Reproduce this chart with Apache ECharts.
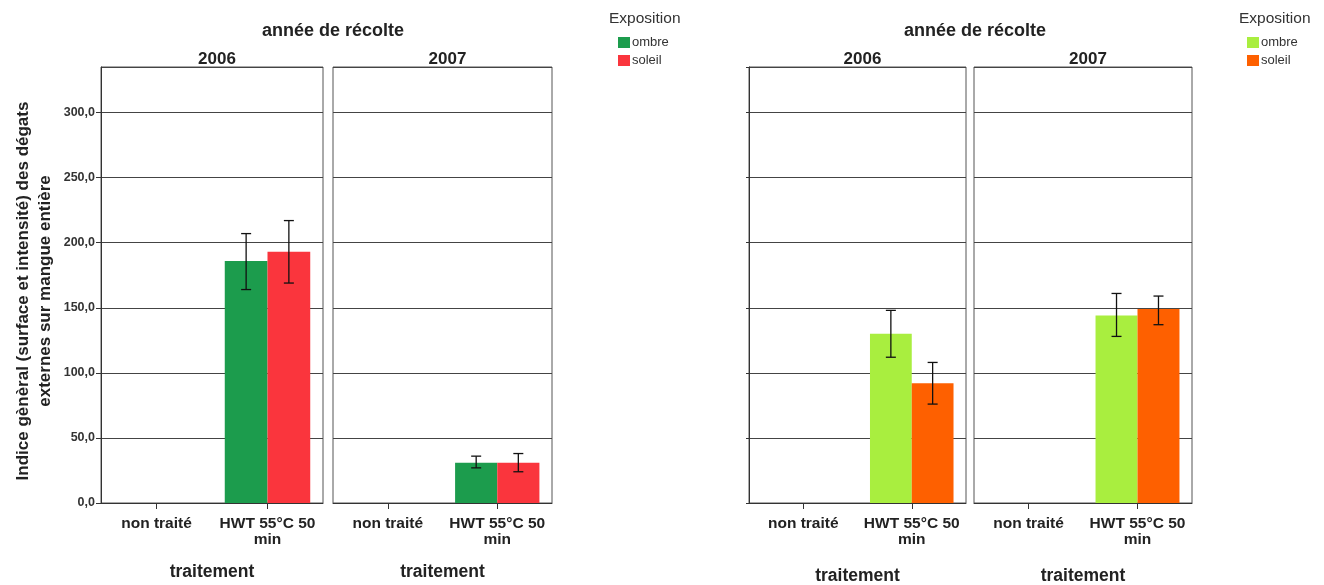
<!DOCTYPE html>
<html><head><meta charset="utf-8">
<script src="https://cdn.jsdelivr.net/npm/echarts@6/dist/echarts.min.js"></script>
<style>html,body{margin:0;padding:0;background:#fff}#c{width:1324px;height:585px}</style>
</head><body><div id="c"></div>
<script>
// ---- data ----
const categories = ['non traité', 'HWT 55°C 50\nmin'];
const years = ['2006', '2007'];
const yTicks = [0, 50, 100, 150, 200, 250, 300];
const yAxisTitle = 'Indice gènèral (surface et intensité) des dégats\nexternes sur mangue entière';
const groupTitle = 'année de récolte';
const xTitle = 'traitement';
const legendTitle = 'Exposition';
const seriesNames = ['ombre', 'soleil'];

// left chart means and 95% CI bounds
const c1_2006_ombre = [null, 186];
const c1_2006_soleil = [null, 193];
const c1_2007_ombre = [null, 31];
const c1_2007_soleil = [null, 31];
const c1_2006_ombre_ci = [null, [164, 207]];
const c1_2006_soleil_ci = [null, [169, 217]];
const c1_2007_ombre_ci = [null, [27, 36]];
const c1_2007_soleil_ci = [null, [24, 38]];

// right chart means and 95% CI bounds
const c2_2006_ombre = [null, 130];
const c2_2006_soleil = [null, 92];
const c2_2007_ombre = [null, 144];
const c2_2007_soleil = [null, 149];
const c2_2006_ombre_ci = [null, [112, 148]];
const c2_2006_soleil_ci = [null, [76, 108]];
const c2_2007_ombre_ci = [null, [128, 161]];
const c2_2007_soleil_ci = [null, [137, 159]];

// ---- layout / style ----
const FONT = 'Liberation Sans, Arial, sans-serif';
const colorsLeft = ['#1c9c4d', '#fa353d'];
const colorsRight = ['#a9ee3f', '#fe6000'];
const grids = [
  {left: 101, top: 67, width: 222, height: 436},
  {left: 333, top: 67, width: 219, height: 436},
  {left: 749, top: 67, width: 217, height: 436},
  {left: 974, top: 67, width: 218, height: 436}
];
const CAT_GAP = 0.23;

const fmt = v => v.toFixed(1).replace('.', ',');

const chart = echarts.init(document.getElementById('c'), null, {renderer: 'canvas'});

const xAxes = grids.map((g, i) => ({
  type: 'category', gridIndex: i, data: categories,
  axisLine: {show: true, lineStyle: {color: '#333', width: 1}},
  axisTick: {show: true, alignWithLabel: true, length: 6, lineStyle: {color: '#333'}},
  axisLabel: {interval: 0, fontFamily: FONT, fontWeight: 'bold', fontSize: 15.5, color: '#222', margin: 13, lineHeight: 16},
  name: xTitle, nameLocation: 'middle', nameGap: i < 2 ? 60 : 64,
  nameTextStyle: {fontFamily: FONT, fontWeight: 'bold', fontSize: 17.5, color: '#222'}
}));

const yAxes = grids.map((g, i) => ({
  type: 'value', gridIndex: i, min: 0, max: 335, interval: 50,
  axisLine: {show: i === 0 || i === 2, lineStyle: {color: '#333'}},
  axisTick: {show: i === 0 || i === 2, length: i === 0 ? 5 : 3, lineStyle: {color: '#333'}},
  axisLabel: {show: i === 0, showMaxLabel: false, fontFamily: FONT, fontWeight: 'bold', fontSize: 12.5, color: '#333', margin: 6,
    formatter: v => yTicks.includes(v) ? fmt(v) : ''},
  splitLine: {show: true, lineStyle: {color: '#444', width: 1}},
  name: i === 0 ? yAxisTitle : '', nameLocation: 'middle', nameGap: 45, nameRotate: 90,
  nameTextStyle: {fontFamily: FONT, fontWeight: 'bold', fontSize: 17, color: '#222', lineHeight: 22, padding: [0, 12, 0, 0]}
}));

const panels = [
  {means: [c1_2006_ombre, c1_2006_soleil], ci: [c1_2006_ombre_ci, c1_2006_soleil_ci], colors: colorsLeft, suffix: ''},
  {means: [c1_2007_ombre, c1_2007_soleil], ci: [c1_2007_ombre_ci, c1_2007_soleil_ci], colors: colorsLeft, suffix: ''},
  {means: [c2_2006_ombre, c2_2006_soleil], ci: [c2_2006_ombre_ci, c2_2006_soleil_ci], colors: colorsRight, suffix: ' '},
  {means: [c2_2007_ombre, c2_2007_soleil], ci: [c2_2007_ombre_ci, c2_2007_soleil_ci], colors: colorsRight, suffix: ' '}
];

const series = [];
panels.forEach((p, i) => {
  p.means.forEach((m, k) => {
    series.push({
      type: 'bar', name: seriesNames[k] + p.suffix, xAxisIndex: i, yAxisIndex: i,
      data: m, barGap: '0%', barCategoryGap: (CAT_GAP * 100) + '%',
      itemStyle: {color: p.colors[k]}, silent: true
    });
  });
  p.ci.forEach((c, k) => {
    const sign = k === 0 ? -1 : 1;
    const d = [];
    c.forEach((v, j) => { if (v) d.push([j, v[0], v[1]]); });
    series.push({
      type: 'custom', xAxisIndex: i, yAxisIndex: i, z: 5, silent: true,
      data: d,
      renderItem: (params, api) => {
        const x = api.value(0);
        const lo = api.coord([x, api.value(1)]);
        const hi = api.coord([x, api.value(2)]);
        const band = api.size([1, 0])[0];
        const cx = lo[0] + sign * band * (1 - CAT_GAP) / 4;
        const cap = 5;
        const st = {stroke: '#111', lineWidth: 1.3};
        return {type: 'group', children: [
          {type: 'line', shape: {x1: cx, y1: lo[1], x2: cx, y2: hi[1]}, style: st},
          {type: 'line', shape: {x1: cx - cap, y1: lo[1], x2: cx + cap, y2: lo[1]}, style: st},
          {type: 'line', shape: {x1: cx - cap, y1: hi[1], x2: cx + cap, y2: hi[1]}, style: st}
        ]};
      }
    });
  });
});

const titleStyle = {fontFamily: FONT, fontWeight: 'bold', fontSize: 17, color: '#222'};
const groupStyle = {fontFamily: FONT, fontWeight: 'bold', fontSize: 18, color: '#222'};
const titles = [
  {text: groupTitle, left: 328, top: 17, textAlign: 'center', textStyle: groupStyle},
  {text: groupTitle, left: 970, top: 17, textAlign: 'center', textStyle: groupStyle}
];
grids.forEach((g, i) => {
  titles.push({text: years[i % 2], left: g.left + g.width / 2, top: 46, textAlign: 'center', textStyle: titleStyle});
});
const legTitleStyle = {fontFamily: FONT, fontSize: 15.5, color: '#333', fontWeight: 'normal'};
titles.push({text: legendTitle, left: 604, top: 6, textStyle: legTitleStyle});
titles.push({text: legendTitle, left: 1234, top: 6, textStyle: legTitleStyle});

const legendCommon = {
  orient: 'vertical', icon: 'rect', itemWidth: 12, itemHeight: 11, itemGap: 5,
  selectedMode: false, padding: 0,
  textStyle: {fontFamily: FONT, fontSize: 13, color: '#333', padding: [0, 0, 0, -3]},
  formatter: n => n.trim()
};

chart.setOption({
  animation: false,
  backgroundColor: '#fff',
  title: titles,
  legend: [
    Object.assign({left: 618, top: 36, data: seriesNames.map(n => n)}, legendCommon),
    Object.assign({left: 1247, top: 36, data: seriesNames.map(n => n + ' ')}, legendCommon)
  ],
  grid: grids.map(g => Object.assign({show: true, borderColor: '#555', borderWidth: 1, backgroundColor: '#fff', outerBoundsMode: 'none', containLabel: false}, g)),
  xAxis: xAxes,
  yAxis: yAxes,
  series: series
});
</script>
</body></html>
